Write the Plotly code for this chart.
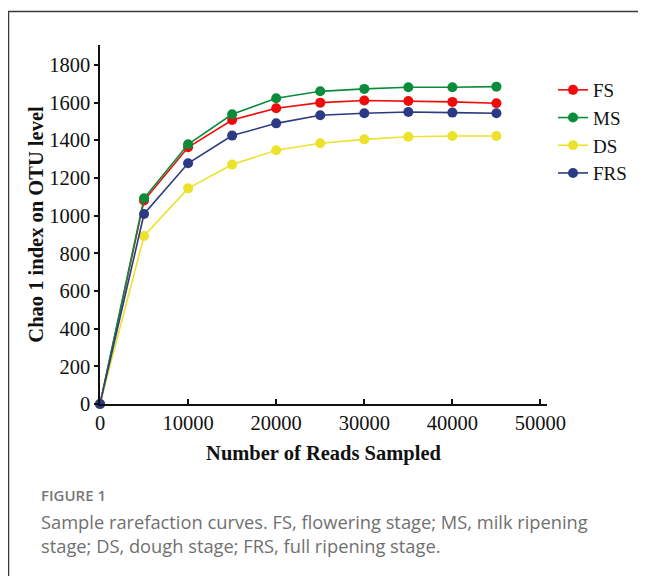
import plotly.graph_objects as go

reads = [0, 5000, 10000, 15000, 20000, 25000, 30000, 35000, 40000, 45000]
fs = [0, 1080, 1363, 1508, 1570, 1600, 1611, 1609, 1604, 1597]
ms = [0, 1092, 1379, 1538, 1623, 1660, 1673, 1682, 1682, 1685]
ds = [0, 892, 1145, 1271, 1347, 1384, 1405, 1419, 1423, 1423]
frs = [0, 1009, 1278, 1425, 1490, 1533, 1544, 1550, 1547, 1544]

series = [("FS", fs, "#f00a0a"), ("MS", ms, "#0a8c3a"), ("DS", ds, "#ece22c"), ("FRS", frs, "#2c3a84")]

OFF = 8  # page body margin
W, H = 646 - OFF, 576 - OFF
L, R, T, B = 100 - OFF, 547 - OFF, 45 - OFF, 404 - OFF

def px(x):
    return (x - OFF - L) / (R - L)

def py(y):
    return (B - (y - OFF)) / (B - T)

fig = go.Figure()
for name, vals, col in series:
    fig.add_trace(go.Scatter(
        x=reads, y=vals, name=name, mode="lines+markers",
        line=dict(color=col, width=1.6),
        marker=dict(color=col, size=10),
        cliponaxis=False,
    ))

serif = "Liberation Serif, Times New Roman, serif"
fig.update_layout(
    width=W, height=H,
    margin=dict(l=L, r=W - R, t=T, b=H - B, pad=0, autoexpand=False),
    paper_bgcolor="white", plot_bgcolor="white",
    font=dict(family=serif, color="#111", size=20),
    showlegend=True,
    legend=dict(x=px(553), y=py(71), xanchor="left", yanchor="top",
                font=dict(family=serif, size=19, color="#111"),
                bgcolor="rgba(0,0,0,0)", itemwidth=30, tracegroupgap=0),
    xaxis=dict(range=[0, 50740], tickvals=[0, 10000, 20000, 30000, 40000, 50000],
               ticktext=["0", "10000", "20000", "30000", "40000", "50000"],
               showgrid=False, zeroline=False, showline=True, linecolor="#111", linewidth=1.5,
               ticks="inside", ticklen=5, tickcolor="#111", tickwidth=1.5, automargin=False,
               tickfont=dict(family=serif, size=20.5, color="#111"),
               title=dict(text="<b>Number of Reads Sampled</b>", standoff=12,
                          font=dict(family=serif, size=20.5, color="#111"))),
    yaxis=dict(range=[0, 1906], tickvals=[0, 200, 400, 600, 800, 1000, 1200, 1400, 1600, 1800],
               showgrid=False, zeroline=False, showline=True, linecolor="#111", linewidth=1.5,
               ticks="outside", ticklen=4, tickcolor="#111", tickwidth=1.5, automargin=False,
               ticklabelstandoff=0,
               tickfont=dict(family=serif, size=20.5, color="#111"),
               title=dict(text="<b>Chao 1 index on OTU level</b>", standoff=0,
                          font=dict(family=serif, size=20.5, color="#111"))),
    shapes=[dict(type="path", xref="paper", yref="paper",
                 path=f"M {px(700)} {py(11.5)} L {px(8.5)} {py(11.5)} L {px(8.5)} {py(700)}",
                 line=dict(color="#3a3a3a", width=1.5))],
    annotations=[
        dict(text="FIGURE 1", xref="paper", yref="paper", x=px(39), y=py(495),
             xanchor="left", yanchor="middle", showarrow=False,
             font=dict(family="Open Sans, sans-serif", size=15, color="#777", weight=600)),
        dict(text="Sample rarefaction curves. FS, flowering stage; MS, milk ripening<br>stage; DS, dough stage; FRS, full ripening stage.",
             xref="paper", yref="paper", x=px(39), y=py(507), align="left",
             xanchor="left", yanchor="top", showarrow=False,
             font=dict(family="Open Sans, sans-serif", size=18.3, color="#707070")),
    ],
)

fig.write_html("out.html")
